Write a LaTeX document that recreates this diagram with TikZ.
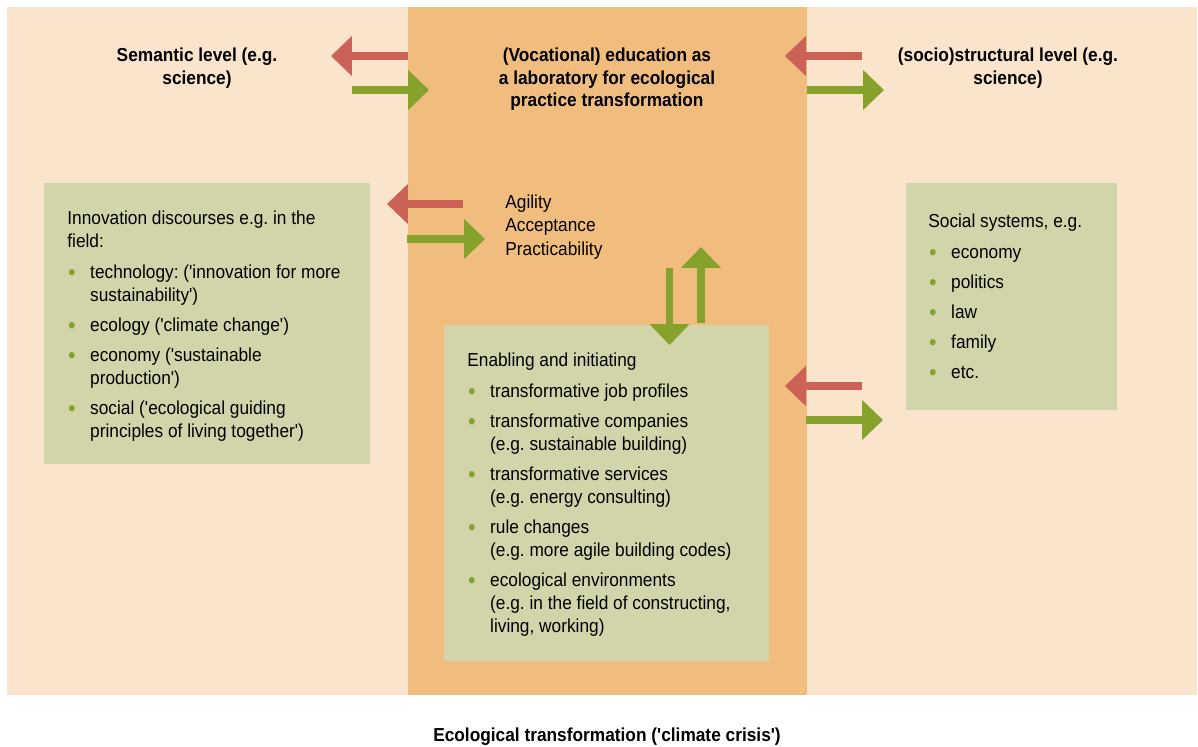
\documentclass[tikz,border=0pt]{standalone}
\usepackage{fontspec}
\setmainfont{Liberation Sans}[Ligatures=TeXOff, FakeStretch=0.92]
\usepackage{tikz}
\usetikzlibrary{arrows.meta,positioning}
\frenchspacing

\definecolor{outerbg}{HTML}{FBE4CC}
\definecolor{innerbg}{HTML}{F1BD7E}
\definecolor{boxgreen}{HTML}{D2D5AA}
\definecolor{arrred}{HTML}{CC6155}
\definecolor{arrgreen}{HTML}{87A22C}

\newcommand{\blt}{\makebox[13pt][l]{\hspace{0.5pt}\textcolor{arrgreen}{\raisebox{-1.2pt}{\scalebox{1.25}{\textbullet}}}}}
\newcommand{\ind}{\hspace*{13pt}}

\begin{document}
\begin{tikzpicture}[x=0.02cm, y=-0.02cm,
    fat/.style={line width=0.15cm, -{Triangle[length=0.42cm, width=0.78cm]}},
    txt/.style={inner sep=0pt, align=left, anchor=north west,
        font=\fontsize{10.7}{13.1}\selectfont},
    head/.style={inner sep=0pt, align=center, anchor=north,
        font=\fontsize{10.7}{12.6}\selectfont\bfseries},
    gbox/.style={fill=boxgreen, inner sep=0pt, anchor=north west}]
    \useasboundingbox (0,0) rectangle (1198,747);

    % Background bands
    \fill[outerbg] (7,7) rectangle (1197,695);
    \fill[innerbg] (408,7) rectangle (807,695);

    % Headings
    \node[head] (sem) at (197,48) {Semantic level (e.g.\\science)};
    \node[head] (lab) at (607,48) {(Vocational) education as\\a laboratory for ecological\\practice transformation};
    \node[head] (soc) at (1008,48) {(socio)structural level (e.g.\\science)};

    % Green boxes
    \node[gbox, minimum width=6.52cm, minimum height=5.62cm] (innov) at (44,183) {};
    \node[gbox, minimum width=6.5cm, minimum height=6.72cm] (enab) at (444,325) {};
    \node[gbox, minimum width=4.22cm, minimum height=4.54cm] (systems) at (906,183) {};

    % Box texts
    \node[txt] (innovtxt) at (67,211) {Innovation discourses e.g. in the\\field:\\[4pt]
        \blt technology: ('innovation for more\\\ind sustainability')\\[4pt]
        \blt ecology ('climate change')\\[4pt]
        \blt economy ('sustainable\\\ind production')\\[4pt]
        \blt social ('ecological guiding\\\ind principles of living together')};
    \node[txt] (enabtxt) at (467,353) {Enabling and initiating\\[4pt]
        \blt transformative job profiles\\[4pt]
        \blt transformative companies\\\ind (e.g. sustainable building)\\[4pt]
        \blt transformative services\\\ind (e.g. energy consulting)\\[4pt]
        \blt rule changes\\\ind (e.g. more agile building codes)\\[4pt]
        \blt ecological environments\\\ind (e.g. in the field of constructing,\\\ind living, working)};
    \node[txt, font=\fontsize{10.7}{17.1}\selectfont] (systxt) at (928,214) {Social systems, e.g.\\
        \blt economy\\\blt politics\\\blt law\\\blt family\\\blt etc.};
    \node[txt] (agil) at (505,195) {Agility\\Acceptance\\Practicability};

    % Caption
    \node[head] (crisis) at (607,728) {Ecological transformation ('climate crisis')};

    % Arrow end points
    \coordinate (tlR0) at (408,56);  \coordinate (tlR1) at (331,56);
    \coordinate (tlG0) at (352,90);  \coordinate (tlG1) at (429,90);
    \coordinate (trR0) at (862,56);  \coordinate (trR1) at (785,56);
    \coordinate (trG0) at (807,90);  \coordinate (trG1) at (884,90);
    \coordinate (mlR0) at (463,204); \coordinate (mlR1) at (387,204);
    \coordinate (mlG0) at (407,239); \coordinate (mlG1) at (485,239);
    \coordinate (lrR0) at (862,386); \coordinate (lrR1) at (785,386);
    \coordinate (lrG0) at (806,420); \coordinate (lrG1) at (883,420);
    \coordinate (vD0) at (669.5,268); \coordinate (vD1) at (669.5,345);
    \coordinate (vU0) at (701,323);  \coordinate (vU1) at (701,247);

    % Arrows
    \draw[fat, arrred] (tlR0) -- (tlR1);
    \draw[fat, arrgreen] (tlG0) -- (tlG1);
    \draw[fat, arrred] (trR0) -- (trR1);
    \draw[fat, arrgreen] (trG0) -- (trG1);
    \draw[fat, arrred] (mlR0) -- (mlR1);
    \draw[fat, arrgreen] (mlG0) -- (mlG1);
    \draw[fat, arrred] (lrR0) -- (lrR1);
    \draw[fat, arrgreen] (lrG0) -- (lrG1);
    \draw[fat, arrgreen] (vD0) -- (vD1);
    \draw[fat, arrgreen] (vU0) -- (vU1);
\end{tikzpicture}
\end{document}
